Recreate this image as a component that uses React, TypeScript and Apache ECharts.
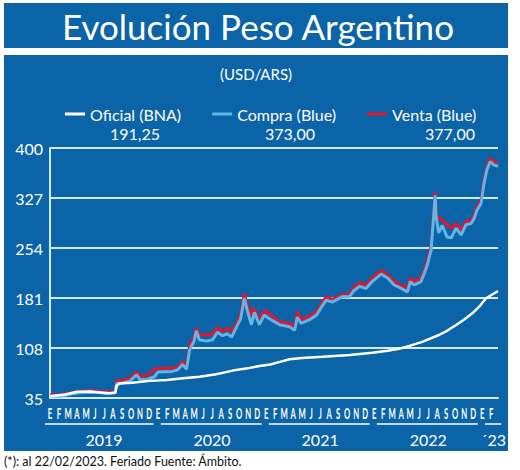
import React, { useEffect, useRef } from "react";
import * as echarts from "echarts";

// Spanish month initials used on the x axis (Enero ... Diciembre)
const MONTH_LETTERS = ["E", "F", "M", "A", "M", "J", "J", "A", "S", "O", "N", "D"];
const YEAR_LABELS = ["2019", "2020", "2021", "2022", "´23"];
const Y_TICKS = [35, 108, 181, 254, 327, 400];
const LAST_DATE = "2023-02-22";

// Official rate (BNA)
const OFICIAL_DATES = [
  "2019-01-02", "2019-02-20", "2019-04-01", "2019-05-15", "2019-06-20", "2019-07-20",
  "2019-08-09", "2019-08-13", "2019-08-22", "2019-10-05", "2019-12-05", "2020-02-01",
  "2020-03-25", "2020-05-20", "2020-07-15", "2020-09-10", "2020-10-15", "2020-11-07",
  "2020-12-10", "2021-01-15", "2021-02-10", "2021-03-20", "2021-05-01", "2021-07-10",
  "2021-10-10", "2021-12-25", "2022-02-15", "2022-03-25", "2022-05-01", "2022-06-11",
  "2022-08-07", "2022-09-05", "2022-10-04", "2022-11-01", "2022-11-28", "2022-12-25",
  "2023-01-14", "2023-02-22",
];
const OFICIAL_VALUES = [
  37.5, 40, 44, 44.5, 43, 42,
  42.5, 52.5, 56, 57.4, 60, 61.3,
  63.7, 66, 69.6, 75, 77.5, 79,
  81.7, 84, 87, 91.5, 93.5, 95.3,
  97.8, 101, 104, 107, 111.5, 117,
  127, 133.5, 141.6, 149.5, 158.6, 170,
  180.6, 191.25,
];

// Informal ("blue") rate, buy and sell
const BLUE_DATES = [
  "2019-01-02", "2019-02-04", "2019-03-07", "2019-04-10", "2019-05-13", "2019-06-16",
  "2019-07-10", "2019-08-01", "2019-08-09", "2019-08-13", "2019-09-03", "2019-09-27",
  "2019-10-20", "2019-11-01", "2019-11-24", "2019-12-20", "2020-01-01", "2020-01-24",
  "2020-02-15", "2020-03-06", "2020-03-23", "2020-04-06", "2020-04-16", "2020-05-01",
  "2020-05-09", "2020-05-19", "2020-06-12", "2020-07-03", "2020-07-19", "2020-08-06",
  "2020-08-22", "2020-09-06", "2020-09-25", "2020-10-06", "2020-10-19", "2020-10-29",
  "2020-11-12", "2020-11-22", "2020-12-09", "2020-12-25", "2021-01-19", "2021-02-15",
  "2021-03-19", "2021-04-06", "2021-04-15", "2021-04-28", "2021-05-25", "2021-06-19",
  "2021-07-06", "2021-07-22", "2021-08-12", "2021-09-15", "2021-10-09", "2021-10-25",
  "2021-11-12", "2021-12-04", "2021-12-25", "2022-01-25", "2022-02-15", "2022-03-08",
  "2022-04-01", "2022-04-22", "2022-05-01", "2022-05-15", "2022-06-07", "2022-06-18",
  "2022-06-28", "2022-07-11", "2022-07-25", "2022-07-28", "2022-08-06", "2022-08-18",
  "2022-09-04", "2022-09-18", "2022-10-04", "2022-10-21", "2022-11-07", "2022-11-24",
  "2022-12-04", "2022-12-14", "2022-12-28", "2023-01-07", "2023-01-17", "2023-01-28",
  "2023-02-10", "2023-02-17", "2023-02-22",
];
const COMPRA_VALUES = [
  38, 37.5, 40.5, 42.5, 43.5, 43,
  41, 42.5, 43, 56, 57, 59.5,
  69, 61.5, 62, 66, 73, 73.5,
  73.5, 76, 84, 77, 105, 118,
  133, 120, 118, 120, 131, 126,
  129, 124, 141, 150, 181, 163,
  142, 160, 142, 156, 149, 142,
  139, 134, 153, 144, 149, 156,
  168, 178, 175, 183, 183, 192,
  198, 195, 205, 216, 210, 200,
  195, 190, 205, 200, 205, 217,
  229, 251, 331, 300, 276, 287,
  270, 269, 283, 273, 288, 290,
  297, 309, 319, 348, 368, 380,
  375, 374, 373,
];
const VENTA_VALUES = [
  40, 39.5, 42.5, 44.5, 45.5, 45,
  43, 44.5, 45, 60, 61, 63.5,
  73, 67, 67, 77, 78, 78.5,
  78.5, 80, 88, 83, 112, 125,
  137, 127, 127, 128, 138, 132,
  137, 132, 146, 158, 188, 171,
  156, 166, 147, 163, 156, 146,
  144, 138, 161, 149, 154, 161,
  173, 183, 179, 186, 186, 197,
  203, 200, 210, 221, 215, 205,
  200, 195, 210, 205, 210, 222,
  236, 258, 336, 305, 297, 295,
  288, 283, 290, 280, 293, 294,
  302, 314, 324, 353, 373, 385,
  380, 378, 377,
];

const PANEL_BLUE = "#0b63a8";
const GRID_COLOR = "#d3eaf8";
const FONT = "Lato, 'Open Sans', sans-serif";

// Fractional month index counted from January 2019
function monthIndex(date: string): number {
  const [y, m, d] = date.split("-").map(Number);
  const days = new Date(y, m, 0).getDate();
  return (y - 2019) * 12 + (m - 1) + (d - 1) / days;
}

const pairs = (dates: string[], values: number[]) =>
  dates.map((d, i) => [monthIndex(d), values[i]]);

const fmt = (v: number) => v.toFixed(2).replace(".", ",");

export default function App() {
  const ref = useRef<HTMLDivElement>(null);

  useEffect(() => {
    if (!ref.current) return;
    const chart = echarts.init(ref.current, undefined, { renderer: "svg" });
    const xMax = monthIndex(LAST_DATE);

    const series = [
      { name: "Oficial (BNA)", values: OFICIAL_VALUES, dates: OFICIAL_DATES, color: "#ffffff", width: 2.5, z: 4 },
      { name: "Compra (Blue)", values: COMPRA_VALUES, dates: BLUE_DATES, color: "#62b6e6", width: 3, z: 3 },
      { name: "Venta (Blue)", values: VENTA_VALUES, dates: BLUE_DATES, color: "#e3172b", width: 3, z: 2 },
    ];

    const baseGraphic: any[] = [
      { type: "rect", id: "titleBox", z: -10, silent: true, shape: { x: 4, y: 3, width: 504, height: 45 }, style: { fill: PANEL_BLUE } },
      { type: "rect", id: "panel", z: -10, silent: true, shape: { x: 4, y: 55, width: 504, height: 396 }, style: { fill: PANEL_BLUE } },
      {
        type: "text", id: "title", x: 258, y: 26,
        style: { text: "Evolución Peso Argentino", fill: "#fff", font: `normal 35px ${FONT}`, textAlign: "center", textVerticalAlign: "middle" },
      },
      {
        type: "text", id: "unit", x: 256, y: 74,
        style: { text: "(USD/ARS)", fill: "#fff", font: `15px ${FONT}`, textAlign: "center", textVerticalAlign: "middle" },
      },
      {
        type: "text", id: "note", x: 4, y: 461,
        style: { text: "(*): al 22/02/2023. Feriado Fuente: Ámbito.", fill: "#111", font: `12.5px ${FONT}`, textAlign: "left", textVerticalAlign: "middle" },
      },
      ...[135, 290, 450].map((cx, i) => ({
        type: "text", id: "last" + i, x: cx, y: 133,
        style: {
          text: fmt(series[i].values[series[i].values.length - 1]),
          fill: "#fff", font: `16px ${FONT}`, textAlign: "center", textVerticalAlign: "middle",
        },
      })),
    ];

    const option: any = {
      animation: false,
      backgroundColor: "#ffffff",
      grid: { left: 50, right: 22, top: 148, bottom: 72, containLabel: false },
      legend: {
        left: 60, top: 101, icon: "rect", itemWidth: 20, itemHeight: 3, itemGap: 31,
        textStyle: { color: "#fff", fontSize: 16, fontFamily: FONT },
        data: series.map((s) => s.name),
      },
      xAxis: {
        type: "value", min: 0, max: xMax, interval: 1,
        axisLine: { show: true, lineStyle: { color: GRID_COLOR, width: 2 } },
        axisTick: { show: false },
        splitLine: { show: false },
        axisLabel: { show: false },
      },
      yAxis: {
        type: "value", min: Y_TICKS[0], max: Y_TICKS[Y_TICKS.length - 1], interval: Y_TICKS[1] - Y_TICKS[0],
        axisLine: { show: true, lineStyle: { color: GRID_COLOR, width: 2 } },
        axisTick: { show: false },
        splitLine: { show: true, lineStyle: { color: GRID_COLOR, width: 2 } },
        axisLabel: { color: "#fff", fontSize: 16, fontFamily: FONT, margin: 7 },
      },
      series: series.map((s) => ({
        name: s.name, type: "line", showSymbol: false, symbol: "none", z: s.z,
        color: s.color,
        lineStyle: { color: s.color, width: s.width },
        data: pairs(s.dates, s.values),
      })),
      graphic: { elements: baseGraphic },
    };

    chart.setOption(option);

    // Month initials (condensed via a group transform), year captions and underlines
    const px = (m: number) => chart.convertToPixel({ xAxisIndex: 0 }, m) as number;
    const axisGraphic: any[] = [];
    for (let m = 0; m <= Math.floor(xMax); m++) {
      axisGraphic.push({
        type: "group", id: "mg" + m, x: px(m), y: 413, scaleX: 0.55, scaleY: 1.05,
        children: [{
          type: "text", id: "m" + m, x: 0, y: 0,
          style: {
            text: MONTH_LETTERS[m % 12], fill: "#fff", font: `bold 14px ${FONT}`,
            textAlign: "center", textVerticalAlign: "middle",
          },
        }],
      });
    }
    YEAR_LABELS.forEach((label, i) => {
      const start = i * 12;
      const isLast = i === YEAR_LABELS.length - 1;
      const x0 = px(i === 0 ? -0.55 : start + 0.3);
      const x1 = isLast ? px(start + 2.1) : px(start + 11.5);
      const cx = isLast ? px(start + 1.25) : px(start + 6);
      axisGraphic.push({
        type: "line", id: "yl" + i, silent: true,
        shape: { x1: x0, y1: 424, x2: x1, y2: 424 },
        style: { stroke: "#fff", lineWidth: 1.5 },
      });
      axisGraphic.push({
        type: "text", id: "yt" + i, x: cx, y: 439,
        style: { text: label, fill: "#fff", font: `16px ${FONT}`, textAlign: "center", textVerticalAlign: "middle" },
      });
    });
    chart.setOption({ graphic: { elements: [...baseGraphic, ...axisGraphic] } });

    return () => chart.dispose();
  }, []);

  return <div ref={ref} style={{ position: "absolute", left: 0, top: 0, width: 520, height: 470 }} />;
}
